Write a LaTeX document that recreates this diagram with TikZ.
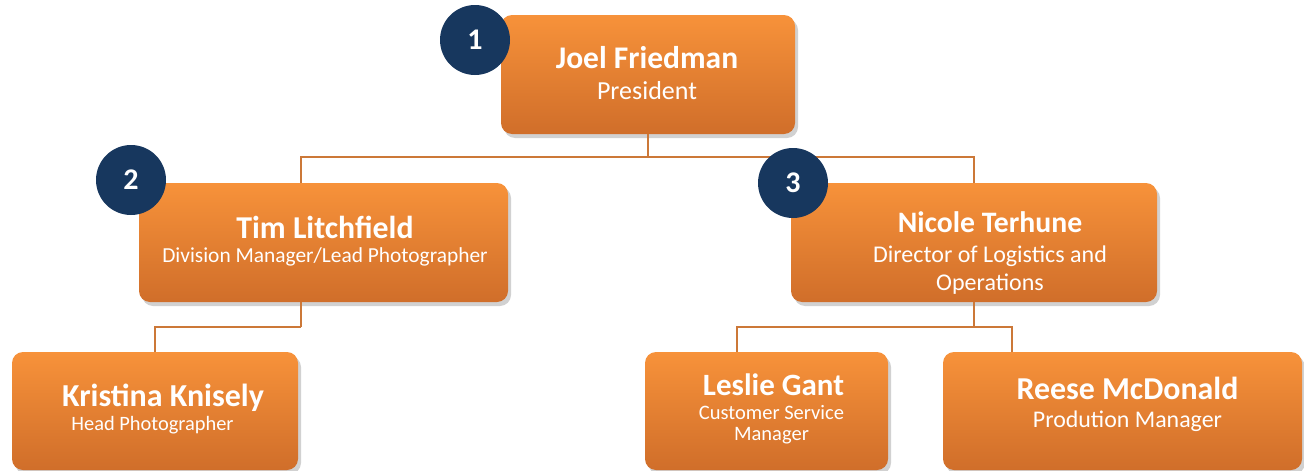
\documentclass[tikz,border=0pt]{standalone}
\usepackage{fontspec}
\setmainfont{Carlito}
\usetikzlibrary{shadows}
\definecolor{orA}{HTML}{F7923A}
\definecolor{orB}{HTML}{D06E2A}
\definecolor{conncol}{HTML}{CC7838}
\definecolor{navy}{HTML}{17375E}
\tikzset{
  box/.style={rectangle, rounded corners=11pt, top color=orA, bottom color=orB, draw=none,
    drop shadow={shadow xshift=3pt, shadow yshift=-4pt, opacity=0.3, fill=black!60},
    inner sep=0pt},
  conn/.style={draw=conncol, line width=2pt},
  badge/.style={circle, fill=navy, minimum size=70pt, inner sep=0pt, text=white, font=\fontsize{30}{34}\selectfont\bfseries},
  nm/.style={text=white, font=\fontsize{31.5}{36}\selectfont\bfseries, inner sep=0pt},
  ttl/.style={text=white, align=center, inner sep=0pt},
}
\begin{document}
\begin{tikzpicture}[x=1pt,y=-1pt]
\useasboundingbox (0,0) rectangle (1304,471);
% boxes
\node[box, minimum width=294pt, minimum height=119pt] (joel) at (648,74.5) {};
\node[box, minimum width=369pt, minimum height=119pt] (tim) at (323.5,242.5) {};
\node[box, minimum width=366pt, minimum height=119pt] (nicole) at (974,242.5) {};
\node[box, minimum width=286pt, minimum height=118pt] (kristina) at (155,411) {};
\node[box, minimum width=243pt, minimum height=118pt] (leslie) at (766.5,411) {};
\node[box, minimum width=359pt, minimum height=118pt] (reese) at (1122.5,411) {};
% connectors
\coordinate (jb) at (648,157);
\coordinate (tx) at (301,0);
\coordinate (tb) at (301,327);
\coordinate (nb) at (974,327);
\coordinate (lx) at (737,0);
\coordinate (rx) at (1012,0);
\draw[conn] (joel.south) -- (jb);
\draw[conn] (jb) -| (tim.north -| tx);
\draw[conn] (jb) -| (nicole.north);
\draw[conn] (tim.south -| tx) -- (tb);
\draw[conn] (tb) -| (kristina.north);
\draw[conn] (nicole.south) -- (nb);
\draw[conn] (nb) -| (leslie.north -| lx);
\draw[conn] (nb) -| (reese.north -| rx);
% texts
\node[nm] (joelN) at (647,58) {Joel Friedman};
\node[ttl, font=\fontsize{26}{30}\selectfont] (joelT) at (647,91) {President};
\node[nm, font=\fontsize{31.8}{36}\selectfont\bfseries] (timN) at (325,227) {Tim Litchfield};
\node[ttl, font=\fontsize{21.4}{25}\selectfont] (timT) at (325,257) {Division Manager/Lead Photographer};
\node[nm, font=\fontsize{29.7}{34}\selectfont\bfseries] (nicN) at (990,222) {Nicole Terhune};
\node[ttl, font=\fontsize{24}{27.5}\selectfont] (nicT) at (990,270) {Director of Logistics and\\Operations};
\node[nm, font=\fontsize{32}{36}\selectfont\bfseries] (kriN) at (163,398) {Kristina Knisely};
\node[ttl, font=\fontsize{20.4}{24}\selectfont] (kriT) at (152.5,425) {Head Photographer};
\node[nm, font=\fontsize{31}{36}\selectfont\bfseries] (lesN) at (773.5,385) {Leslie Gant};
\node[ttl, font=\fontsize{20.5}{20.5}\selectfont] (lesT) at (771.5,424.5) {Customer Service\\Manager};
\node[nm, font=\fontsize{31.9}{36}\selectfont\bfseries] (reeN) at (1127.5,388) {Reese McDonald};
\node[ttl, font=\fontsize{23.9}{28}\selectfont] (reeT) at (1127.5,421) {Prodution Manager};
% badges
\node[badge] (b1) at (475,40) {1};
\node[badge] (b2) at (131,180) {2};
\node[badge] (b3) at (793,183) {3};
\end{tikzpicture}
\end{document}
